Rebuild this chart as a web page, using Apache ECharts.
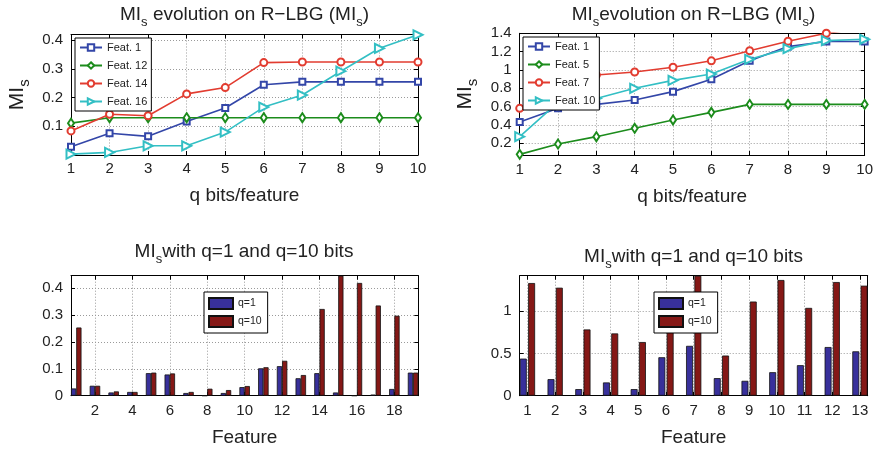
<!DOCTYPE html>
<html><head><meta charset="utf-8">
<script src="https://cdn.jsdelivr.net/npm/echarts@6/dist/echarts.min.js"></script>
<style>html,body{margin:0;padding:0;background:#fff}#c{width:876px;height:450px}</style>
</head><body><div id="c"></div>
<script>
// ---------- data ----------
const qBits = [1, 2, 3, 4, 5, 6, 7, 8, 9, 10];
const qTicks = [1, 2, 3, 4, 5, 6, 7, 8, 9, 10];

const tlNames = ['Feat. 1', 'Feat. 12', 'Feat. 14', 'Feat. 16'];
const tlFeat1  = [0.029, 0.076, 0.065, 0.117, 0.164, 0.245, 0.255, 0.255, 0.255, 0.255];
const tlFeat12 = [0.111, 0.130, 0.130, 0.130, 0.130, 0.130, 0.130, 0.130, 0.130, 0.130];
const tlFeat14 = [0.084, 0.142, 0.137, 0.213, 0.235, 0.322, 0.324, 0.324, 0.324, 0.324];
const tlFeat16 = [0.003, 0.009, 0.032, 0.032, 0.080, 0.167, 0.209, 0.292, 0.372, 0.419];
const tlYTicks = [0.1, 0.2, 0.3, 0.4];

const trNames = ['Feat. 1', 'Feat. 5', 'Feat. 7', 'Feat. 10'];
const trFeat1  = [0.433, 0.582, 0.625, 0.673, 0.764, 0.898, 1.100, 1.255, 1.310, 1.310];
const trFeat5  = [0.080, 0.193, 0.273, 0.364, 0.455, 0.538, 0.625, 0.625, 0.625, 0.625];
const trFeat7  = [0.582, 0.900, 0.945, 0.978, 1.030, 1.100, 1.210, 1.313, 1.400, 1.460];
const trFeat10 = [0.273, 0.647, 0.690, 0.800, 0.887, 0.956, 1.116, 1.233, 1.320, 1.335];
const trYTicks = [0.2, 0.4, 0.6, 0.8, 1, 1.2, 1.4];

const barNames = ['q=1', 'q=10'];
const blFeatures = [1, 2, 3, 4, 5, 6, 7, 8, 9, 10, 11, 12, 13, 14, 15, 16, 17, 18, 19];
const blQ1  = [0.027, 0.037, 0.012, 0.014, 0.084, 0.079, 0.010, 0.000, 0.010, 0.032, 0.102, 0.110, 0.065, 0.084, 0.012, 0.000, 0.004, 0.025, 0.086];
const blQ10 = [0.254, 0.037, 0.016, 0.014, 0.086, 0.083, 0.014, 0.026, 0.021, 0.036, 0.106, 0.130, 0.077, 0.323, 0.447, 0.420, 0.336, 0.298, 0.086];
const blXTicks = [2, 4, 6, 8, 10, 12, 14, 16, 18];
const blYTicks = [0, 0.1, 0.2, 0.3, 0.4];

const brFeatures = [1, 2, 3, 4, 5, 6, 7, 8, 9, 10, 11, 12, 13];
const brQ1  = [0.439, 0.196, 0.078, 0.157, 0.078, 0.455, 0.590, 0.208, 0.176, 0.278, 0.361, 0.576, 0.525];
const brQ10 = [1.333, 1.278, 0.784, 0.737, 0.635, 1.050, 1.420, 0.475, 1.114, 1.369, 1.039, 1.345, 1.302];
const brXTicks = [1, 2, 3, 4, 5, 6, 7, 8, 9, 10, 11, 12, 13];
const brYTicks = [0, 0.5, 1];

// ---------- style ----------
const FONT = '"Liberation Sans", Arial, Helvetica, sans-serif';
const TXT = '#222';
const C_BLUE = '#3346a8', C_GREEN = '#1c8c1c', C_RED = '#e23c30', C_CYAN = '#33bfc4';
const BAR_BLUE = '#38309b', BAR_RED = '#851816';

const grids = [
  { left: 71, top: 34.5, width: 347, height: 120.5 },
  { left: 519.7, top: 33.3, width: 347, height: 121.7 },
  { left: 71, top: 275.7, width: 347.3, height: 120 },
  { left: 519.7, top: 275.7, width: 348, height: 120 }
];

const tickLine = { lineStyle: { color: '#000', width: 1 } };
const gridLine = { show: true, lineStyle: { color: '#9a9a9a', type: [1, 2], width: 1 } };

function xAxes(gi, min, max, ticks, name, margin, nameGap) {
  return [{
    type: 'value', gridIndex: gi, position: 'bottom', min: min, max: max,
    axisLine: { show: true, onZero: false, lineStyle: { color: '#000', width: 1 } },
    axisTick: Object.assign({ show: true, inside: true, length: 4, customValues: ticks }, tickLine),
    axisLabel: { customValues: ticks, fontSize: 15, color: TXT, fontFamily: FONT, margin: margin },
    splitLine: gridLine,
    name: name, nameLocation: 'middle', nameGap: nameGap,
    nameTextStyle: { fontSize: 19, color: TXT, fontFamily: FONT }
  }, {
    type: 'value', gridIndex: gi, position: 'top', min: min, max: max,
    axisLine: { show: true, onZero: false, lineStyle: { color: '#000', width: 1 } },
    axisTick: Object.assign({ show: true, inside: true, length: 4, customValues: ticks }, tickLine),
    axisLabel: { show: false, customValues: ticks },
    splitLine: { show: false }
  }];
}

function yAxes(gi, min, max, ticks, withName) {
  const main = {
    type: 'value', gridIndex: gi, position: 'left', min: min, max: max,
    axisLine: { show: true, onZero: false, lineStyle: { color: '#000', width: 1 } },
    axisTick: Object.assign({ show: true, inside: true, length: 4, customValues: ticks }, tickLine),
    axisLabel: { customValues: ticks, fontSize: 15, color: TXT, fontFamily: FONT, margin: 8 },
    splitLine: gridLine
  };
  if (withName) {
    main.name = '{m|MI}{s|s}';
    main.nameLocation = 'middle';
    main.nameGap = 39;
    main.nameRotate = 90;
    main.nameTextStyle = {
      rich: {
        m: { fontSize: 21, color: TXT, fontFamily: FONT, lineHeight: 30 },
        s: { fontSize: 15, color: TXT, fontFamily: FONT, lineHeight: 30, verticalAlign: 'bottom' }
      }
    };
  }
  return [main, {
    type: 'value', gridIndex: gi, position: 'right', min: min, max: max,
    axisLine: { show: true, onZero: false, lineStyle: { color: '#000', width: 1 } },
    axisTick: Object.assign({ show: true, inside: true, length: 4, customValues: ticks }, tickLine),
    axisLabel: { show: false, customValues: ticks },
    splitLine: { show: false }
  }];
}

function pairs(xs, ys) { return xs.map((x, i) => [x, ys[i]]); }

function lineSeries(name, xi, ys, color, symbol, size, rotate) {
  return {
    type: 'line', name: name, xAxisIndex: xi, yAxisIndex: xi,
    data: pairs(qBits, ys), clip: true,
    symbol: symbol, symbolSize: size, symbolRotate: rotate || 0, showAllSymbol: true,
    lineStyle: { color: color, width: 1.6 },
    itemStyle: { color: color, borderColor: color, borderWidth: 1.4 },
    emphasis: { disabled: true }
  };
}

function barSeries(name, xi, xs, ys, color, width, gap) {
  return {
    type: 'bar', name: name, xAxisIndex: xi, yAxisIndex: xi,
    data: pairs(xs, ys), clip: true,
    barWidth: width, barGap: gap,
    itemStyle: { color: color, borderColor: '#111', borderWidth: 0.8 },
    emphasis: { disabled: true }
  };
}

function titleRich() {
  return {
    a: { fontSize: 19, fontWeight: 'normal', color: TXT, fontFamily: FONT, lineHeight: 28 },
    s: { fontSize: 13, fontWeight: 'normal', color: TXT, fontFamily: FONT, lineHeight: 28, verticalAlign: 'bottom' }
  };
}

const titles = [
  { text: '{a|MI}{s|s}{a| evolution on R−LBG (MI}{s|s}{a|)}', left: 244.5, top: 1 },
  { text: '{a|MI}{s|s}{a|evolution on R−LBG (MI}{s|s}{a|)}', left: 693.5, top: 1 },
  { text: '{a|MI}{s|s}{a|with q=1 and q=10 bits}', left: 244, top: 238 },
  { text: '{a|MI}{s|s}{a|with q=1 and q=10 bits}', left: 693.5, top: 243 }
].map(t => ({
  text: t.text, left: t.left, top: t.top, textAlign: 'center', padding: 0,
  textStyle: { fontWeight: 'normal', rich: titleRich() }
}));

const lineLegend = (names, left, top) => ({
  data: names, left: left, top: top, orient: 'vertical',
  backgroundColor: '#fff', borderColor: '#000', borderWidth: 1, borderRadius: 0,
  padding: [4, 4, 4, 4], itemGap: 7, itemWidth: 22, itemHeight: 8,
  selectedMode: false,
  textStyle: { fontSize: 11, color: TXT, fontFamily: FONT }
});
const barLegend = (left, top) => ({
  data: barNames.map(n => ({ name: n, icon: 'rect' })), left: left, top: top, orient: 'vertical',
  backgroundColor: '#fff', borderColor: '#000', borderWidth: 1, borderRadius: 0,
  padding: [5, 6, 5, 4], itemGap: 5, itemWidth: 24, itemHeight: 11,
  selectedMode: false,
  textStyle: { fontSize: 10.5, color: TXT, fontFamily: FONT }
});

const xs = [].concat(
  xAxes(0, 1, 10, qTicks, 'q bits/feature', 6, 31),
  xAxes(1, 1, 10, qTicks, 'q bits/feature', 7, 32),
  xAxes(2, 0.72, 19.28, blXTicks, 'Feature', 8, 33),
  xAxes(3, 0.72, 13.28, brXTicks, 'Feature', 8, 33)
);
const ys = [].concat(
  yAxes(0, 0, 0.42, tlYTicks, true),
  yAxes(1, 0.073, 1.4, trYTicks, true),
  yAxes(2, 0, 0.447, blYTicks, false),
  yAxes(3, 0, 1.42, brYTicks, false)
);

const series = [
  lineSeries(tlNames[0], 0, tlFeat1, C_BLUE, 'emptyRect', 6),
  lineSeries(tlNames[1], 0, tlFeat12, C_GREEN, 'emptyDiamond', [6, 9]),
  lineSeries(tlNames[2], 0, tlFeat14, C_RED, 'emptyCircle', 7),
  lineSeries(tlNames[3], 0, tlFeat16, C_CYAN, 'emptyTriangle', 9, -90),
  lineSeries(trNames[0], 2, trFeat1, C_BLUE, 'emptyRect', 6),
  lineSeries(trNames[1], 2, trFeat5, C_GREEN, 'emptyDiamond', [6, 9]),
  lineSeries(trNames[2], 2, trFeat7, C_RED, 'emptyCircle', 7),
  lineSeries(trNames[3], 2, trFeat10, C_CYAN, 'emptyTriangle', 9, -90),
  barSeries(barNames[0], 4, blFeatures, blQ1, BAR_BLUE, '28%', '0%'),
  barSeries(barNames[1], 4, blFeatures, blQ10, BAR_RED, '28%', '0%'),
  barSeries(barNames[0], 6, brFeatures, brQ1, BAR_BLUE, '25%', '20%'),
  barSeries(barNames[1], 6, brFeatures, brQ10, BAR_RED, '25%', '20%')
];

const chart = echarts.init(document.getElementById('c'), null, { renderer: 'canvas' });
chart.setOption({
  animation: false,
  backgroundColor: '#fff',
  textStyle: { fontFamily: FONT },
  title: titles,
  grid: grids,
  xAxis: xs,
  yAxis: ys,
  legend: [
    lineLegend(tlNames, 75, 38),
    lineLegend(trNames, 523, 37),
    barLegend(204, 292),
    barLegend(654, 292)
  ],
  series: series
});
</script>
</body></html>
